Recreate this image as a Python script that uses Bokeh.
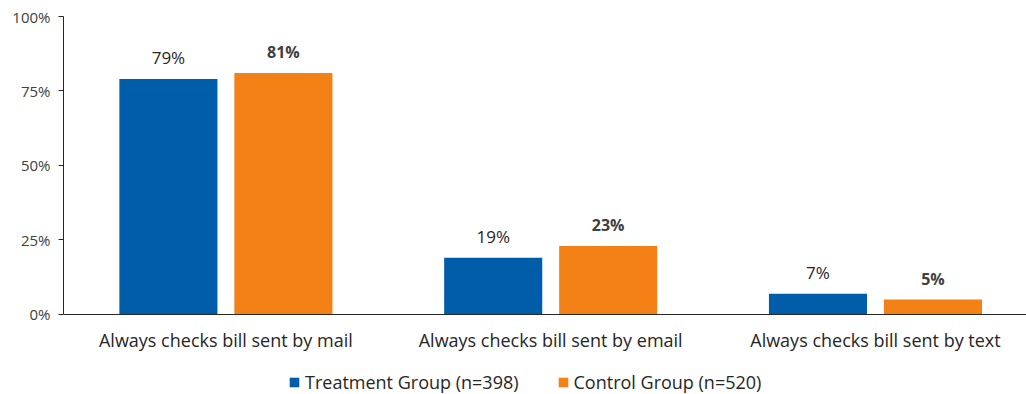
from bokeh.plotting import figure
from bokeh.models import ColumnDataSource, Legend, LegendItem, FixedTicker, Range1d, Span
from bokeh.transform import dodge
from bokeh.core.properties import value
from bokeh.embed import file_html
from bokeh.resources import INLINE

categories = [
    "Always checks bill sent by mail",
    "Always checks bill sent by email",
    "Always checks bill sent by text",
]
treatment = [79, 19, 7]
control = [81, 23, 5]
series_names = ["Treatment Group (n=398)", "Control Group (n=520)"]
y_ticks = [0, 25, 50, 75, 100]

FONT = "Open Sans"
BLUE = "#005DAA"
ORANGE = "#F48116"
DARK = "#262626"

xpos = [i + 0.5 for i in range(len(categories))]
src = ColumnDataSource(dict(
    x=xpos,
    zero=[0] * len(categories),
    cat=categories,
    treatment=treatment,
    control=control,
    t_lbl=[f"{v}%" for v in treatment],
    c_lbl=[f"{v}%" for v in control],
))

# The frame runs to the bottom edge so the category names and the legend
# can sit beneath the zero line inside it.
p = figure(
    width=1026, height=394,
    output_backend="svg", toolbar_location=None,
    x_range=Range1d(0, 2.965), y_range=Range1d(-26.85, 100),
    min_border_left=63, min_border_right=0, min_border_top=16, min_border_bottom=0,
    frame_width=963, frame_height=378,
)
p.outline_line_color = None
p.grid.grid_line_color = None
p.background_fill_color = "white"
p.border_fill_color = "white"
p.xaxis.visible = False

p.add_layout(Span(location=0, dimension="width", line_color=DARK, line_width=1))

off = 0.177
bw = 0.302
r_t = p.vbar(x=dodge("x", -off, range=p.x_range), top="treatment", width=bw,
             source=src, fill_color=BLUE, line_color=None)
r_c = p.vbar(x=dodge("x", off, range=p.x_range), top="control", width=bw,
             source=src, fill_color=ORANGE, line_color=None)

# value labels above the bars
p.text(x=dodge("x", -off, range=p.x_range), y="treatment", text="t_lbl", source=src,
       text_align="center", text_baseline="bottom", y_offset=-10,
       text_font=value(FONT), text_font_size="17px", text_color=DARK)
p.text(x=dodge("x", off, range=p.x_range), y="control", text="c_lbl", source=src,
       text_align="center", text_baseline="bottom", y_offset=-10,
       text_font=value(FONT), text_font_size="16px", text_font_style="bold",
       text_color="#404040")

# category names under each pair of bars
p.text(x="x", y="zero", text="cat", source=src,
       text_align="center", text_baseline="middle", y_offset=26,
       text_font=value(FONT), text_font_size="18px", text_color=DARK)

# y axis: percentage ticks
ya = p.yaxis[0]
ya.bounds = (0, 100)
ya.ticker = FixedTicker(ticks=y_ticks)
ya.major_label_overrides = {t: f"{t}%" for t in y_ticks}
ya.major_label_text_font = FONT
ya.major_label_text_font_size = "15px"
ya.major_label_text_color = "#404040"
ya.major_tick_in = 0
ya.major_tick_out = 5
ya.minor_tick_line_color = None
ya.axis_line_color = DARK
ya.major_tick_line_color = DARK
ya.major_label_standoff = 8

legend = Legend(
    items=[LegendItem(label=series_names[0], renderers=[r_t]),
           LegendItem(label=series_names[1], renderers=[r_c])],
    orientation="horizontal", location=(225, 0),
    glyph_width=12, glyph_height=12, spacing=38,
    label_text_font=FONT, label_text_font_size="18px", label_text_color=DARK,
    label_standoff=5, label_height=18, border_line_color=None, background_fill_alpha=0,
    padding=0, margin=0,
)
p.add_layout(legend, "center")

open("out.html", "w").write(file_html(p, INLINE))
